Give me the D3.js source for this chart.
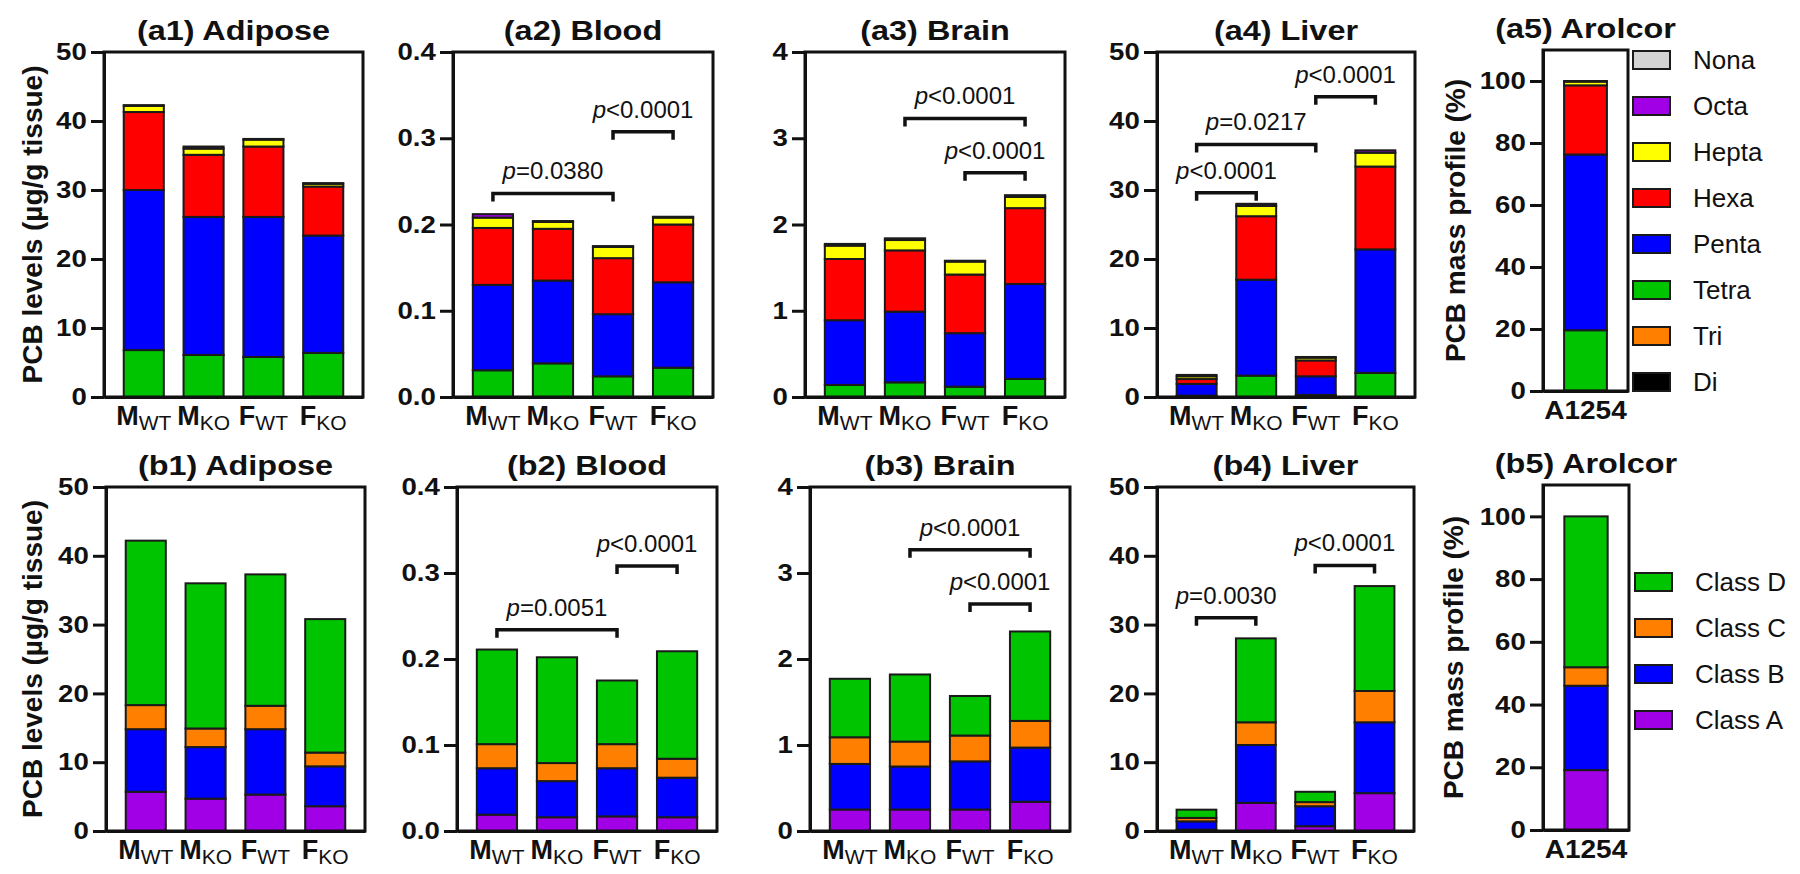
<!DOCTYPE html>
<html><head><meta charset="utf-8">
<script src="https://cdn.jsdelivr.net/npm/d3@7"></script>
<style>
body{margin:0;background:#fff}
svg{display:block}
text{font-family:"Liberation Sans",Arial,Helvetica,sans-serif;fill:#111}
</style>
</head><body>
<svg id="chart" width="1800" height="874"></svg>
<script>
// ---------- categories ----------
const groups = ["MWT", "MKO", "FWT", "FKO"];
const groupMain = ["M", "M", "F", "F"];
const groupSub = ["WT", "KO", "WT", "KO"];
const aroclor = ["A1254"];

const homologs = ["Di", "Tri", "Tetra", "Penta", "Hexa", "Hepta", "Octa", "Nona"];
const homologColors = ["#000000", "#FF8000", "#00C400", "#0000FF", "#FF0000", "#FFFF00", "#A100E6", "#D3D3D3"];
const classes = ["Class A", "Class B", "Class C", "Class D"];
const classColors = ["#A100E6", "#0000FF", "#FF8000", "#00C400"];

// ---------- homolog profiles (Di..Nona), µg/g tissue, per group MWT, MKO, FWT, FKO ----------
const adiposeHomolog = [
  [0, 0, 6.8, 23.2, 11.3, 0.9, 0.1, 0],
  [0, 0, 6.1, 20.0, 9.0, 0.9, 0.3, 0],
  [0, 0, 5.8, 20.3, 10.2, 1.0, 0.1, 0],
  [0, 0, 6.4, 17.0, 7.1, 0.4, 0.1, 0]
];
const bloodHomolog = [
  [0, 0, 0.031, 0.099, 0.066, 0.012, 0.004, 0],
  [0, 0, 0.039, 0.096, 0.060, 0.008, 0.001, 0],
  [0, 0, 0.024, 0.072, 0.065, 0.013, 0.001, 0],
  [0, 0, 0.034, 0.099, 0.067, 0.008, 0.001, 0]
];
const brainHomolog = [
  [0, 0, 0.14, 0.75, 0.71, 0.155, 0.02, 0],
  [0, 0, 0.17, 0.82, 0.71, 0.12, 0.02, 0],
  [0, 0, 0.12, 0.62, 0.68, 0.15, 0.01, 0],
  [0, 0, 0.21, 1.10, 0.88, 0.13, 0.02, 0]
];
const liverHomolog = [
  [0, 0, 0.2, 1.7, 0.7, 0.4, 0.2, 0],
  [0, 0, 3.1, 13.9, 9.2, 1.5, 0.3, 0],
  [0, 0, 0.3, 2.7, 2.3, 0.4, 0.1, 0],
  [0, 0, 3.5, 17.9, 12.0, 2.0, 0.35, 0]
];
const aroclorHomolog = [
  [0, 0.1, 19.5, 56.7, 22.3, 1.2, 0.2, 0]
];

// ---------- class profiles (A..D) ----------
const adiposeClass = [
  [5.7, 9.1, 3.5, 23.9],
  [4.7, 7.5, 2.7, 21.1],
  [5.3, 9.5, 3.4, 19.1],
  [3.6, 5.8, 2.0, 19.4]
];
const bloodClass = [
  [0.019, 0.054, 0.028, 0.110],
  [0.016, 0.042, 0.021, 0.123],
  [0.017, 0.056, 0.028, 0.074],
  [0.016, 0.046, 0.022, 0.125]
];
const brainClass = [
  [0.25, 0.53, 0.31, 0.68],
  [0.25, 0.50, 0.29, 0.78],
  [0.25, 0.56, 0.30, 0.46],
  [0.34, 0.63, 0.31, 1.04]
];
const liverClass = [
  [0.2, 1.2, 0.5, 1.2],
  [4.1, 8.4, 3.3, 12.2],
  [0.7, 2.9, 0.6, 1.5],
  [5.5, 10.3, 4.55, 15.25]
];
const aroclorClass = [
  [19.1, 26.9, 5.9, 48.1]
];

// ---------- significance brackets: [from, to, y value, label] ----------
const bloodHomologP = [[0, 2, 0.236, "=0.0380"], [2, 3, 0.3075, "<0.0001"]];
const brainHomologP = [[1, 3, 3.23, "<0.0001"], [2, 3, 2.6, "<0.0001"]];
const liverHomologP = [[0, 1, 29.6, "<0.0001"], [0, 2, 36.6, "=0.0217"], [2, 3, 43.5, "<0.0001"]];
const bloodClassP = [[0, 2, 0.234, "=0.0051"], [2, 3, 0.308, "<0.0001"]];
const brainClassP = [[1, 3, 3.27, "<0.0001"], [2, 3, 2.64, "<0.0001"]];
const liverClassP = [[0, 1, 31.0, "=0.0030"], [2, 3, 38.6, "<0.0001"]];

// ---------- tick values ----------
const ticks50 = [0, 10, 20, 30, 40, 50];
const ticksBlood = [0, 0.1, 0.2, 0.3, 0.4];
const ticksBrain = [0, 1, 2, 3, 4];
const ticksPct = [0, 20, 40, 60, 80, 100];

const svg = d3.select("#chart");
const fInt = d3.format("d"), f1 = d3.format(".1f");
const yTitleLevels = "PCB levels (\u00B5g/g tissue)";
const yTitlePct = "PCB mass profile (%)";

const rowA = {y0: 52, y1: 397}, rowB = {y0: 487, y1: 831};
const panels = [
  {title: "(a1) Adipose", x0: 104, x1: 363, ...rowA, dom: [0, 50], ticks: ticks50, fmt: fInt, data: adiposeHomolog, keys: homologs, colors: homologColors, p: [], ytitle: yTitleLevels, ytx: 32},
  {title: "(a2) Blood", x0: 453, x1: 713, ...rowA, dom: [0, 0.4], ticks: ticksBlood, fmt: f1, data: bloodHomolog, keys: homologs, colors: homologColors, p: bloodHomologP},
  {title: "(a3) Brain", x0: 805, x1: 1065, ...rowA, dom: [0, 4], ticks: ticksBrain, fmt: fInt, data: brainHomolog, keys: homologs, colors: homologColors, p: brainHomologP},
  {title: "(a4) Liver", x0: 1157, x1: 1415, ...rowA, dom: [0, 50], ticks: ticks50, fmt: fInt, data: liverHomolog, keys: homologs, colors: homologColors, p: liverHomologP},
  {title: "(a5) Arolcor", x0: 1543, x1: 1628, y0: 50, y1: 391, dom: [0, 110], ticks: ticksPct, fmt: fInt, data: aroclorHomolog, keys: homologs, colors: homologColors, p: [], cats: aroclor, ytitle: yTitlePct, ytx: 1455,
   legend: {x: 1633, yc: 60, step: 46, order: homologs.slice().reverse(), colors: homologColors.slice().reverse()}},
  {title: "(b1) Adipose", x0: 106, x1: 365, ...rowB, dom: [0, 50], ticks: ticks50, fmt: fInt, data: adiposeClass, keys: classes, colors: classColors, p: [], ytitle: yTitleLevels, ytx: 32},
  {title: "(b2) Blood", x0: 457, x1: 717, ...rowB, dom: [0, 0.4], ticks: ticksBlood, fmt: f1, data: bloodClass, keys: classes, colors: classColors, p: bloodClassP},
  {title: "(b3) Brain", x0: 810, x1: 1070, ...rowB, dom: [0, 4], ticks: ticksBrain, fmt: fInt, data: brainClass, keys: classes, colors: classColors, p: brainClassP},
  {title: "(b4) Liver", x0: 1157, x1: 1414, ...rowB, dom: [0, 50], ticks: ticks50, fmt: fInt, data: liverClass, keys: classes, colors: classColors, p: liverClassP},
  {title: "(b5) Arolcor", x0: 1543, x1: 1629, y0: 485, y1: 830, dom: [0, 110], ticks: ticksPct, fmt: fInt, data: aroclorClass, keys: classes, colors: classColors, p: [], cats: aroclor, ytitle: yTitlePct, ytx: 1453,
   legend: {x: 1635, yc: 582, step: 46, order: classes.slice().reverse(), colors: classColors.slice().reverse()}}
];

panels.forEach(drawPanel);

function drawPanel(P) {
  const cats = P.cats || groups;
  const g = svg.append("g");
  const x = d3.scaleBand().domain(cats).range([P.x0, P.x1]).paddingInner(0.33).paddingOuter(0.33);
  const y = d3.scaleLinear().domain(P.dom).range([P.y1, P.y0]);
  const color = d3.scaleOrdinal().domain(P.keys).range(P.colors);

  const rows = cats.map((c, i) => {
    const o = {cat: c};
    P.keys.forEach((k, j) => o[k] = P.data[i][j]);
    return o;
  });
  const series = d3.stack().keys(P.keys)(rows);

  g.append("g").selectAll("g").data(series).join("g")
    .attr("fill", s => color(s.key))
    .selectAll("rect").data(s => s.filter(d => d[1] - d[0] > 0)).join("rect")
    .attr("x", d => x(d.data.cat))
    .attr("width", x.bandwidth())
    .attr("y", d => y(d[1]))
    .attr("height", d => y(d[0]) - y(d[1]))
    .attr("stroke", "#1a1a1a").attr("stroke-width", 2);

  // frame
  g.append("rect").attr("x", P.x0).attr("y", P.y0)
    .attr("width", P.x1 - P.x0).attr("height", P.y1 - P.y0)
    .attr("fill", "none").attr("stroke", "#111").attr("stroke-width", 3);

  // y axis
  const ya = g.append("g").attr("transform", `translate(${P.x0},0)`)
    .call(d3.axisLeft(y).tickValues(P.ticks).tickFormat(P.fmt).tickSize(13).tickSizeOuter(0).tickPadding(2));
  ya.select(".domain").attr("stroke", "#111").attr("stroke-width", 3);
  ya.selectAll(".tick line").attr("stroke", "#111").attr("stroke-width", 3);
  ya.selectAll(".tick text").attr("font-size", 24).attr("font-weight", "bold")
    .attr("font-family", "'Liberation Sans', Arial, sans-serif").attr("fill", "#111")
    .attr("transform", "scale(1.15,1)");

  // x axis
  const xa = g.append("g").attr("transform", `translate(0,${P.y1})`)
    .call(d3.axisBottom(x).tickSize(0).tickSizeOuter(0));
  xa.select(".domain").attr("stroke", "#111").attr("stroke-width", 3);
  xa.selectAll(".tick text").each(function (d, i) {
    const t = d3.select(this).attr("y", 28).attr("dy", null).text(null)
      .attr("font-family", "'Liberation Sans', Arial, sans-serif").attr("fill", "#111");
    if (P.cats) {
      t.attr("font-size", 25).attr("font-weight", "bold").attr("transform", "scale(1.12,1)").text(d);
    } else {
      t.append("tspan").attr("font-size", 27).attr("font-weight", "bold").text(groupMain[i]);
      t.append("tspan").attr("font-size", 21).attr("dy", 5).text(groupSub[i]);
    }
  });

  // title
  g.append("text")
    .attr("transform", `translate(${(P.x0 + P.x1) / 2},${P.y0 - 12}) scale(1.2,1)`)
    .attr("text-anchor", "middle").attr("font-size", 27).attr("font-weight", "bold")
    .text(P.title);

  // y title
  if (P.ytitle) {
    g.append("text")
      .attr("transform", `translate(${P.ytx},${(P.y0 + P.y1) / 2}) rotate(-90)`)
      .attr("text-anchor", "middle").attr("dy", "0.35em")
      .attr("font-size", 28).attr("font-weight", "bold")
      .text(P.ytitle);
  }

  // brackets
  const bw = x.bandwidth();
  P.p.forEach(([a, b, v, lab]) => {
    const xa1 = x(cats[a]) + bw / 2, xb1 = x(cats[b]) + bw / 2, yy = y(v);
    g.append("path")
      .attr("d", `M${xa1},${yy + 8}V${yy}H${xb1}V${yy + 8}`)
      .attr("fill", "none").attr("stroke", "#111").attr("stroke-width", 3.5);
    const t = g.append("text").attr("x", (xa1 + xb1) / 2).attr("y", yy - 14)
      .attr("text-anchor", "middle").attr("font-size", 24);
    t.append("tspan").attr("font-style", "italic").text("p");
    t.append("tspan").text(lab);
  });

  // legend
  if (P.legend) {
    const L = P.legend;
    const li = g.append("g").selectAll("g").data(L.order).join("g")
      .attr("transform", (d, i) => `translate(${L.x},${L.yc + i * L.step})`);
    li.append("rect").attr("x", 0).attr("y", -9).attr("width", 37).attr("height", 18)
      .attr("fill", (d, i) => L.colors[i]).attr("stroke", "#1a1a1a").attr("stroke-width", 2);
    li.append("text").attr("x", 60).attr("dy", "0.35em").attr("font-size", 26).text(d => d);
  }
}
</script>
</body></html>
